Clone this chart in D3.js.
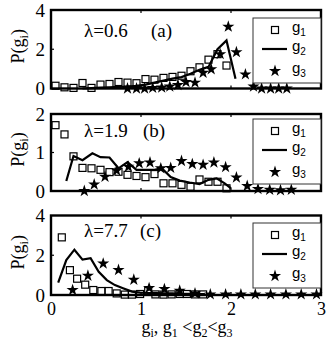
<!DOCTYPE html>
<html><head><meta charset="utf-8">
<script src="https://cdn.jsdelivr.net/npm/d3@7"></script>
<style>
html,body{margin:0;padding:0;background:#fff;}
svg{display:block;}
</style></head>
<body>
<svg id="chart" width="327" height="352" font-family="Liberation Serif, Times New Roman, serif"></svg>
<script>
// ---------- data ----------
const xTicks = [0, 1, 2, 3];
const xTickLabels = ["0", "1", "2", "3"];
const yTicksA = [0, 2, 4];
const yTicksB = [0, 1, 2];
const yTicksC = [0, 2, 4];
const panelLambda = ["\u03bb=0.6", "\u03bb=1.9", "\u03bb=7.7"];
const panelTags = ["(a)", "(b)", "(c)"];
const seriesNames = ["g", "g", "g"];
const seriesSubs = ["1", "2", "3"];

// panel (a)
const aG1x = [0.05,0.15,0.25,0.35,0.45,0.55,0.65,0.75,0.85,0.95,1.05,1.15,1.25,1.35,1.45,1.55,1.65,1.75,1.85,1.95];
const aG1y = [0.14,0.06,0.03,0.28,0.03,0.2,0.23,0.33,0.3,0.27,0.48,0.45,0.54,0.59,0.65,0.88,1.08,1.47,1.75,1.17];
const aG2x = [0.35,0.45,0.55,0.65,0.75,0.85,0.95,1.05,1.15,1.25,1.35,1.45,1.55,1.65,1.75,1.85,1.95,2.05];
const aG2y = [0.0,0.02,0.04,0.06,0.08,0.1,0.14,0.2,0.3,0.4,0.5,0.58,0.75,0.95,1.1,2.0,2.45,0.5];
const aG3x = [0.85,0.95,1.04,1.13,1.23,1.32,1.41,1.5,1.6,1.69,1.78,1.88,1.97,2.06,2.16,2.25,2.34,2.44,2.53,2.62];
const aG3y = [0.0,0.0,0.0,0.03,0.05,0.1,0.18,0.33,0.3,0.8,0.98,1.75,3.15,1.85,0.72,0.1,0.0,0.0,0.0,0.0];

// panel (b)
const bG1x = [0.05,0.15,0.25,0.35,0.45,0.55,0.65,0.75,0.85,0.95,1.05,1.15,1.25,1.35,1.45,1.55,1.65,1.75,1.85,1.95];
const bG1y = [1.71,1.47,0.9,0.6,0.59,0.55,0.49,0.5,0.42,0.39,0.36,0.44,0.2,0.2,0.16,0.11,0.3,0.24,0.24,0.07];
const bG2x = [0.17,0.25,0.35,0.46,0.55,0.65,0.75,0.85,0.95,1.05,1.15,1.23,1.33,1.43,1.54,1.65,1.75,1.84,1.93,2.0];
const bG2y = [0.26,0.91,0.8,0.98,0.88,0.87,0.59,0.75,0.55,0.55,0.55,0.59,0.36,0.27,0.22,0.18,0.29,0.33,0.2,0.07];
const bG3x = [0.37,0.48,0.6,0.73,0.86,0.98,1.1,1.22,1.33,1.45,1.57,1.69,1.81,1.94,2.06,2.18,2.3,2.43,2.55,2.67];
const bG3y = [0.0,0.17,0.37,0.53,0.63,0.72,0.74,0.59,0.6,0.78,0.7,0.68,0.74,0.62,0.35,0.13,0.05,0.03,0.02,0.03];

// panel (c)
const cG1x = [0.12,0.21,0.29,0.38,0.47,0.56,0.64,0.73,0.82,0.9,0.99,1.08,1.16,1.25,1.34,1.43,1.51,1.6,1.69];
const cG1y = [2.9,1.25,0.82,0.52,0.25,0.2,0.2,0.08,0.02,0.02,0.05,0.2,0.03,0.02,0.03,0.05,0.05,0.03,0.03];
const cG2x = [0.08,0.17,0.26,0.35,0.44,0.53,0.62,0.71,0.8,0.9,0.99,1.08,1.17,1.26,1.35,1.44,1.53,1.62,1.71];
const cG2y = [0.62,1.76,2.28,1.78,1.85,1.17,0.75,0.5,0.34,0.17,0.12,0.1,0.1,0.08,0.08,0.06,0.06,0.05,0.04];
const cG3x = [0.24,0.41,0.58,0.75,0.92,1.09,1.26,1.43,1.6,1.77,1.94,2.11,2.27,2.44,2.61,2.78,2.95];
const cG3y = [0.25,0.97,1.58,1.26,0.77,0.35,0.3,0.22,0.08,0.03,0.03,0.03,0.03,0.03,0.03,0.03,0.03];

// ---------- layout ----------
const SERIF = "Liberation Serif, Times New Roman, serif";
const SANS = "Liberation Sans, Arial, sans-serif";
const svg = d3.select("#chart");
const x = d3.scaleLinear().domain([0, 3]).range([51, 321]);

const panels = [
  {top: 10, bottom: 88.5, ymax: 4, yTicks: yTicksA, lam: panelLambda[0], tag: panelTags[0], labelY: 37, tagX: 151,
   g1: [aG1x, aG1y], g2: [aG2x, aG2y], g3: [aG3x, aG3y], legTop: 18, showX: false},
  {top: 114, bottom: 191, ymax: 2, yTicks: yTicksB, lam: panelLambda[1], tag: panelTags[1], labelY: 137, tagX: 143,
   g1: [bG1x, bG1y], g2: [bG2x, bG2y], g3: [bG3x, bG3y], legTop: 119, showX: false},
  {top: 215.5, bottom: 295, ymax: 4, yTicks: yTicksC, lam: panelLambda[2], tag: panelTags[2], labelY: 237, tagX: 140,
   g1: [cG1x, cG1y], g2: [cG2x, cG2y], g3: [cG3x, cG3y], legTop: 223, showX: true}
];

const star = d3.symbol().type(d3.symbolStar).size(46);

panels.forEach((p) => {
  const y = d3.scaleLinear().domain([0, p.ymax]).range([p.bottom, p.top]);
  const g = svg.append("g");

  const yAxis = d3.axisLeft(y).tickValues(p.yTicks).tickSize(0).tickPadding(6).tickFormat(d3.format("d"));
  const ya = g.append("g").attr("transform", `translate(${x.range()[0]},0)`).call(yAxis)
    .attr("font-family", SERIF).attr("font-size", 19);
  ya.select(".domain").remove();

  const midY = p.yTicks[1];
  const tick = (x1, y1, x2, y2) => g.append("line").attr("x1", x1).attr("y1", y1).attr("x2", x2).attr("y2", y2)
    .attr("stroke", "#000").attr("stroke-width", 1.2);
  tick(x(0), y(midY), x(0) + 3, y(midY));
  tick(x(3), y(midY), x(3) - 3, y(midY));
  [1, 2].forEach(t => { tick(x(t), p.top, x(t), p.top + 3); tick(x(t), p.bottom, x(t), p.bottom - 3); });

  if (p.showX) {
    const xAxis = d3.axisBottom(x).tickValues(xTicks).tickSize(0).tickPadding(7).tickFormat((d, i) => xTickLabels[i]);
    const xa = g.append("g").attr("transform", `translate(0,${p.bottom})`).call(xAxis)
      .attr("font-family", SERIF).attr("font-size", 18);
    xa.select(".domain").remove();
  }

  const ly = g.append("text")
    .attr("transform", `translate(24,${(p.top + p.bottom) / 2 - 3}) rotate(-90)`)
    .attr("text-anchor", "middle").attr("font-family", SERIF).attr("font-size", 18);
  ly.append("tspan").text("P(g");
  ly.append("tspan").attr("dy", 4).attr("font-size", 12).text("i");
  ly.append("tspan").attr("dy", -4).text(")");

  g.append("text").attr("x", 84).attr("y", p.labelY).attr("font-family", SERIF).attr("font-size", 19).text(p.lam);
  g.append("text").attr("x", p.tagX).attr("y", p.labelY).attr("font-family", SERIF).attr("font-size", 19).text(p.tag);

  const d1 = p.g1[0].map((v, i) => [v, p.g1[1][i]]);
  g.selectAll(".sq").data(d1).enter().append("rect")
    .attr("x", d => x(d[0]) - 3.5).attr("y", d => y(d[1]) - 3.5)
    .attr("width", 7).attr("height", 7)
    .attr("fill", "none").attr("stroke", "#000").attr("stroke-width", 1.2);

  const d2 = p.g2[0].map((v, i) => [v, p.g2[1][i]]);
  g.append("path").datum(d2)
    .attr("d", d3.line().x(d => x(d[0])).y(d => y(d[1])))
    .attr("fill", "none").attr("stroke", "#000").attr("stroke-width", 2.2);

  const d3s = p.g3[0].map((v, i) => [v, p.g3[1][i]]);
  g.selectAll(".st").data(d3s).enter().append("path")
    .attr("transform", d => `translate(${x(d[0])},${y(d[1])})`)
    .attr("d", star).attr("fill", "#000");

  g.append("rect").attr("x", x(0)).attr("y", p.top).attr("width", x(3) - x(0)).attr("height", p.bottom - p.top)
    .attr("fill", "none").attr("stroke", "#000").attr("stroke-width", 2.4);

  const lx = 253, lt = p.legTop, lw = x(3) - lx, lh = 65;
  const lg = g.append("g");
  lg.append("rect").attr("x", lx).attr("y", lt).attr("width", lw).attr("height", lh)
    .attr("fill", "#fff").attr("stroke", "#333").attr("stroke-width", 1);
  const rows = [lt + 12, lt + 31, lt + 53];
  lg.append("rect").attr("x", 275 - 3.5).attr("y", rows[0] - 3.5).attr("width", 7).attr("height", 7)
    .attr("fill", "none").attr("stroke", "#000").attr("stroke-width", 1.2);
  lg.append("line").attr("x1", 262).attr("x2", 287).attr("y1", rows[1]).attr("y2", rows[1])
    .attr("stroke", "#000").attr("stroke-width", 2.2);
  lg.append("path").attr("transform", `translate(275,${rows[2]})`).attr("d", star).attr("fill", "#000");
  rows.forEach((ry, i) => {
    const t = lg.append("text").attr("x", 292).attr("y", ry + 2).attr("font-family", SANS).attr("font-size", 15);
    t.append("tspan").text(seriesNames[i]);
    t.append("tspan").attr("dy", 4).attr("font-size", 10).text(seriesSubs[i]);
  });
});

const xl = svg.append("text").attr("x", 187).attr("y", 333).attr("text-anchor", "middle")
  .attr("font-family", SERIF).attr("font-size", 18);
xl.append("tspan").text("g");
xl.append("tspan").attr("dy", 4).attr("font-size", 12).text("i");
xl.append("tspan").attr("dy", -4).text(", g");
xl.append("tspan").attr("dy", 4).attr("font-size", 12).text("1");
xl.append("tspan").attr("dy", -4).text(" <g");
xl.append("tspan").attr("dy", 4).attr("font-size", 12).text("2");
xl.append("tspan").attr("dy", -4).text("<g");
xl.append("tspan").attr("dy", 4).attr("font-size", 12).text("3");
</script>
</body></html>
